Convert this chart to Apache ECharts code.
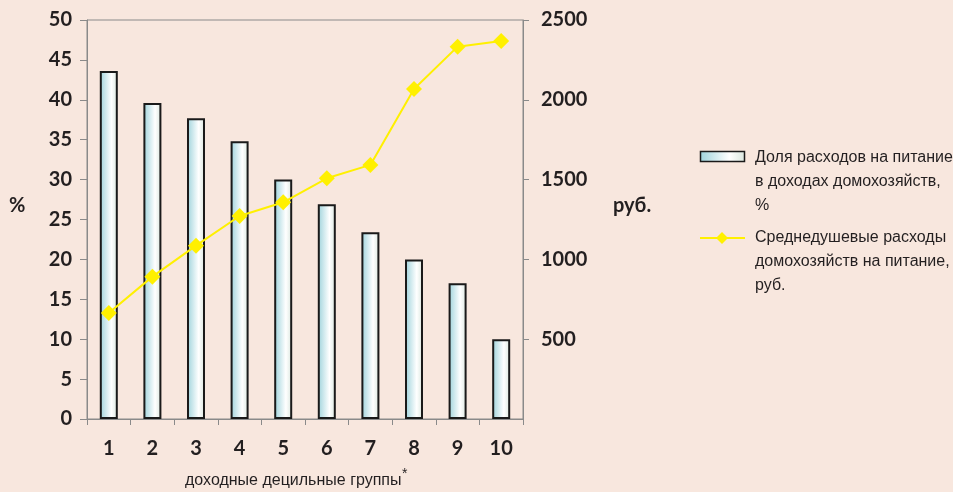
<!DOCTYPE html>
<html><head><meta charset="utf-8">
<script src="https://cdn.jsdelivr.net/npm/echarts@6/dist/echarts.min.js"></script>
<style>html,body{margin:0;padding:0;background:#f8e7de;}#c{width:953px;height:492px;}</style>
</head><body><div id="c"></div>
<script>
const categories = ['1','2','3','4','5','6','7','8','9','10'];
const shareValues = [43.6, 39.6, 37.7, 34.8, 30.0, 26.9, 23.4, 20.0, 17.0, 10.0];
const rubValues = [664, 892, 1086, 1272, 1358, 1508, 1592, 2068, 2333, 2369];
const leftTicks = {min: 0, max: 50, interval: 5};
const rightTicks = {min: 0, max: 2500, interval: 500};
const seriesNames = ['Доля расходов на питание в доходах домохозяйств, %', 'Среднедушевые расходы домохозяйств на питание, руб.'];

const txt = '#231f20';
const axisGray = '#8a8a8a';
const tickFont = {color: txt, fontFamily: 'Lato', fontWeight: 'bold', fontSize: 20};
const barGrad = new echarts.graphic.LinearGradient(0, 0, 1, 0, [
  {offset: 0, color: '#9dd2db'}, {offset: 0.65, color: '#ffffff'}, {offset: 1, color: '#d9e6de'}
]);
const chart = echarts.init(document.getElementById('c'));
chart.setOption({
  backgroundColor: '#f8e7de',
  animation: false,
  grid: {left: 87, right: 430, top: 20, bottom: 73, show: true, borderColor: axisGray, borderWidth: 1, backgroundColor: 'transparent'},
  xAxis: {
    type: 'category', data: categories, boundaryGap: true,
    axisLine: {lineStyle: {color: axisGray, width: 1}},
    axisTick: {show: true, length: 6, lineStyle: {color: axisGray}},
    axisLabel: Object.assign({margin: 20}, tickFont)
  },
  yAxis: [
    {type: 'value', min: leftTicks.min, max: leftTicks.max, interval: leftTicks.interval,
     splitLine: {show: false},
     axisLine: {show: true, lineStyle: {color: axisGray}},
     axisTick: {show: true, length: 7, lineStyle: {color: axisGray}},
     axisLabel: Object.assign({margin: 15}, tickFont)},
    {type: 'value', min: rightTicks.min, max: rightTicks.max, interval: rightTicks.interval, position: 'right',
     splitLine: {show: false},
     axisLine: {show: true, lineStyle: {color: axisGray}},
     axisTick: {show: true, length: 6, lineStyle: {color: axisGray}},
     axisLabel: Object.assign({margin: 18, showMinLabel: false, formatter: v => v === 0 ? '' : String(v)}, tickFont)}
  ],
  series: [
    {name: seriesNames[0], type: 'bar', data: shareValues, yAxisIndex: 0, barWidth: 18,
     itemStyle: {color: barGrad, borderColor: '#1a1a1a', borderWidth: 2}},
    {name: seriesNames[1], type: 'line', data: rubValues, yAxisIndex: 1,
     lineStyle: {color: '#fff000', width: 2}, itemStyle: {color: '#fff000'},
     symbol: 'diamond', symbolSize: 16}
  ],
  graphic: [
    {type: 'text', left: 9, top: 196, style: {text: '%', fill: txt, font: 'bold 20px Lato'}},
    {type: 'text', left: 613, top: 196, style: {text: 'руб.', fill: txt, font: 'bold 20px Lato'}},
    {type: 'text', left: 185, top: 473, style: {text: 'доходные децильные группы', fill: txt, font: '16px "Liberation Sans"'}},
    {type: 'text', left: 402, top: 467, style: {text: '*', fill: txt, font: '14px "Liberation Sans"'}},
    {type: 'rect', shape: {x: 700.5, y: 151.5, width: 44, height: 10}, style: {fill: barGrad, stroke: '#1a1a1a', lineWidth: 1.5}},
    {type: 'text', left: 755, top: 146, style: {text: 'Доля расходов на питание\nв доходах домохозяйств,\n%', fill: txt, font: '16px "Liberation Sans"', lineHeight: 24}},
    {type: 'line', shape: {x1: 700, y1: 238, x2: 745, y2: 238}, style: {stroke: '#fff000', lineWidth: 2}},
    {type: 'polygon', shape: {points: [[722, 232], [728, 238], [722, 244], [716, 238]]}, style: {fill: '#fff000'}},
    {type: 'text', left: 755, top: 226, style: {text: 'Среднедушевые расходы\nдомохозяйств на питание,\nруб.', fill: txt, font: '16px "Liberation Sans"', lineHeight: 24}}
  ]
});
</script></body></html>
